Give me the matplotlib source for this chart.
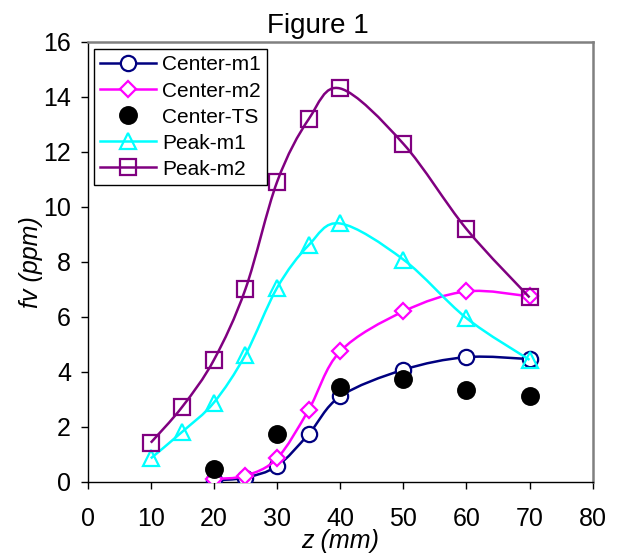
import numpy as np
import matplotlib
matplotlib.use("Agg")
import matplotlib.pyplot as plt
from matplotlib.path import Path
from matplotlib.patches import PathPatch
from matplotlib.lines import Line2D

plt.rcParams["font.family"] = ["Liberation Sans", "DejaVu Sans"]

# data (z in mm, fv in ppm)
z_center = [20, 25, 30, 35, 40, 50, 60, 70]
center_m1 = [0.05, 0.15, 0.57, 1.73, 3.1, 4.07, 4.53, 4.46]
center_m2 = [0.1, 0.22, 0.85, 2.61, 4.74, 6.19, 6.92, 6.74]

z_ts = [20, 30, 40, 50, 60, 70]
center_ts = [0.48, 1.73, 3.45, 3.73, 3.34, 3.12]

z_peak = [10, 15, 20, 25, 30, 35, 40, 50, 60, 70]
peak_m1 = [0.85, 1.82, 2.88, 4.62, 7.05, 8.6, 9.39, 8.08, 5.95, 4.43]
peak_m2 = [1.42, 2.73, 4.43, 7.01, 10.9, 13.18, 14.3, 12.29, 9.19, 6.7]

x_ticks = list(range(0, 81, 10))
y_ticks = list(range(0, 17, 2))


def smooth_path(x, y):
    """Excel-like smoothed line: Catmull-Rom segments as cubic Beziers."""
    pts = np.column_stack([x, y]).astype(float)
    n = len(pts)
    verts = [pts[0]]
    codes = [Path.MOVETO]
    for i in range(n - 1):
        p0 = pts[i - 1] if i > 0 else pts[i]
        p1, p2 = pts[i], pts[i + 1]
        p3 = pts[i + 2] if i + 2 < n else pts[i + 1]
        verts += [p1 + (p2 - p0) / 6, p2 - (p3 - p1) / 6, p2]
        codes += [Path.CURVE4] * 3
    return Path(verts, codes)


series = [
    # label, x, y, color, marker, size, face, smoothed line
    ("Center-m1", z_center, center_m1, "#000080", "o", 11, "white", True),
    ("Center-m2", z_center, center_m2, "#FF00FF", "D", 8, "white", True),
    ("Center-TS", z_ts, center_ts, "black", "o", 12, "black", False),
    ("Peak-m1", z_peak, peak_m1, "#00FFFF", "^", 11, "none", True),
    ("Peak-m2", z_peak, peak_m2, "#800080", "s", 12, "none", True),
]

fig = plt.figure(figsize=(6.17, 5.56), dpi=100)
ax = fig.add_axes([0.1421, 0.1336, 0.8185, 0.7914])

handles = []
for k, (label, x, y, col, mk, ms, face, line) in enumerate(series):
    if line:
        ax.add_patch(PathPatch(smooth_path(x, y), fill=False, edgecolor=col,
                               lw=1.8, zorder=2 + 2 * k))
    ax.plot(x, y, ls="none", marker=mk, ms=ms, mfc=face, mec=col, mew=1.6,
            zorder=3 + 2 * k)
    handles.append(Line2D([], [], color=col, lw=1.8 if line else 0,
                          ls="-" if line else "none", marker=mk, ms=ms,
                          mfc=face, mec=col, mew=1.6, label=label))

ax.set_xlim(0, 80)
ax.set_ylim(0, 16)
ax.set_xticks(x_ticks)
ax.set_yticks(y_ticks)
ax.tick_params(axis="x", direction="out", length=5, width=1, labelsize=18, pad=13)
ax.tick_params(axis="y", direction="out", length=5, width=1, labelsize=18, pad=7)

for side in ("left", "bottom"):
    ax.spines[side].set_color("black")
    ax.spines[side].set_linewidth(1.0)
for side in ("top", "right"):
    ax.spines[side].set_color("#808080")
    ax.spines[side].set_linewidth(1.8)

ax.set_xlabel("z (mm)", fontsize=18, style="italic", labelpad=-1)
ax.set_ylabel("fv (ppm)", fontsize=18, style="italic", labelpad=0)
fig.text(317.5 / 617, 1 - 26 / 556, "Figure 1", fontsize=20, ha="center", va="center")

leg = ax.legend(handles=handles, loc="upper left", bbox_to_anchor=(0.0125, 0.983),
                borderaxespad=0, fontsize=15, labelspacing=0.34, handlelength=2.7,
                handletextpad=0.28, borderpad=0.3, fancybox=False, framealpha=1,
                edgecolor="black")
leg.get_frame().set_linewidth(1.0)
leg.set_zorder(20)

fig.savefig("out.png", dpi=100)
